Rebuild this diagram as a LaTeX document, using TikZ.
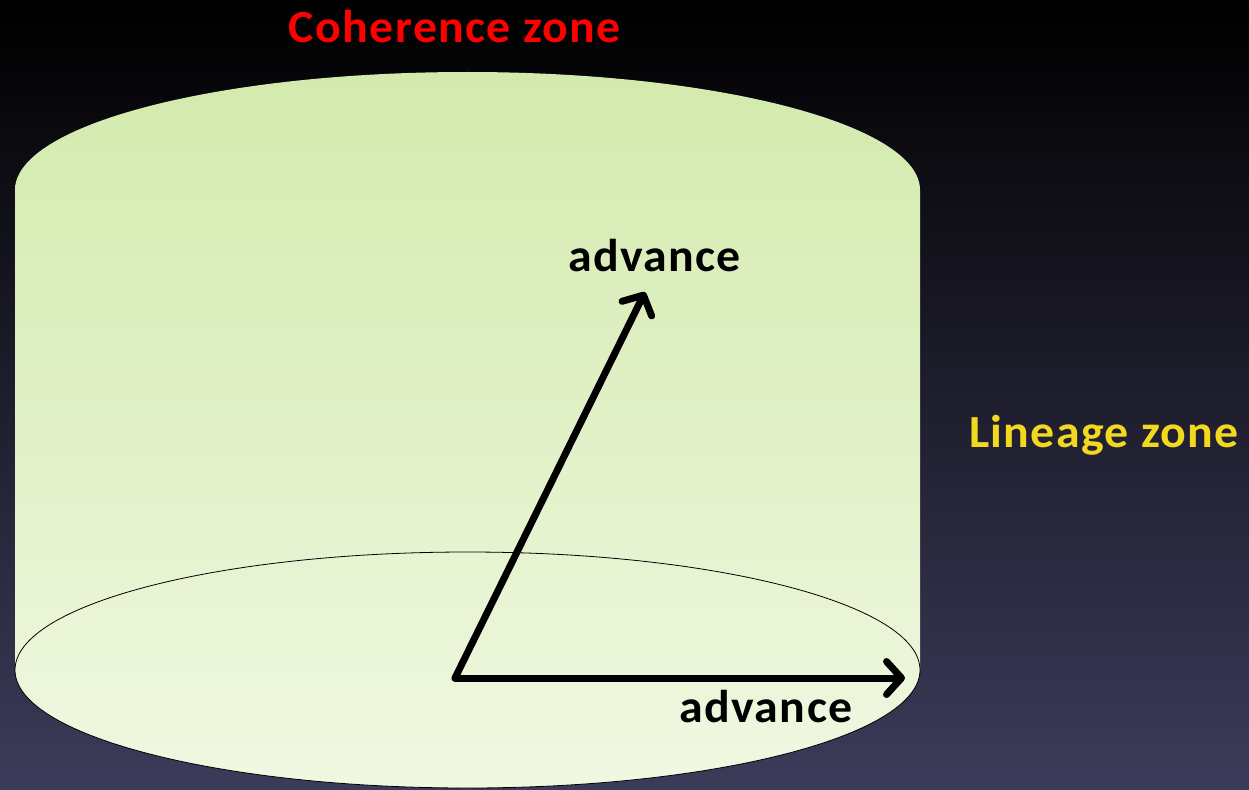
\documentclass[tikz,border=0pt]{standalone}
\usepackage{fontspec}
\setmainfont{Carlito}
\newfontfamily\lblfont[LetterSpace=3,FakeStretch=1.04]{Carlito}
\usetikzlibrary{arrows.meta}
\definecolor{bgtop}{HTML}{000000}
\definecolor{bgbot}{HTML}{3C3B5A}
\definecolor{cyltop}{HTML}{D3EAAD}
\definecolor{cylbot}{HTML}{F0F8E2}
\definecolor{cohred}{HTML}{FF0000}
\definecolor{linyel}{HTML}{F2D81E}
\tikzset{
  lbl/.style={font=\lblfont\bfseries\fontsize{46}{48}\selectfont, inner sep=0pt, anchor=base},
  adv/.style={line width=7pt, line cap=round, -{Straight Barb[length=15pt,width=33pt,line width=7pt,round]}},
}
\begin{document}
\begin{tikzpicture}[x=1pt,y=-1pt]
\useasboundingbox (0,0) rectangle (1249,789);
\shade[top color=bgtop, bottom color=bgbot] (0,0) rectangle (1249,789);
% cylinder body
\shade[top color=cyltop, bottom color=cylbot]
  (15,190) arc[start angle=180, end angle=0, x radius=452.5, y radius=-118]
  -- (920,670) arc[start angle=0, end angle=-180, x radius=452.5, y radius=-118] -- cycle;
\draw[line width=0.8pt] (467.5,670) ellipse[x radius=452.5, y radius=118];
% arrows
\coordinate (o) at (455,678);
\coordinate (r) at (905,678);
\coordinate (u) at (645,292);
\draw[adv] (o) -- (r);
\draw[adv] (o) -- (u);
\node[lbl] (a1) at (654.5,271) {advance};
\node[lbl] (a2) at (766,722) {advance};
\node[lbl, text=cohred] (coh) at (455,43) {Coherence zone};
\node[lbl, text=linyel] (lin) at (1104,447) {Lineage zone};
\end{tikzpicture}
\end{document}
